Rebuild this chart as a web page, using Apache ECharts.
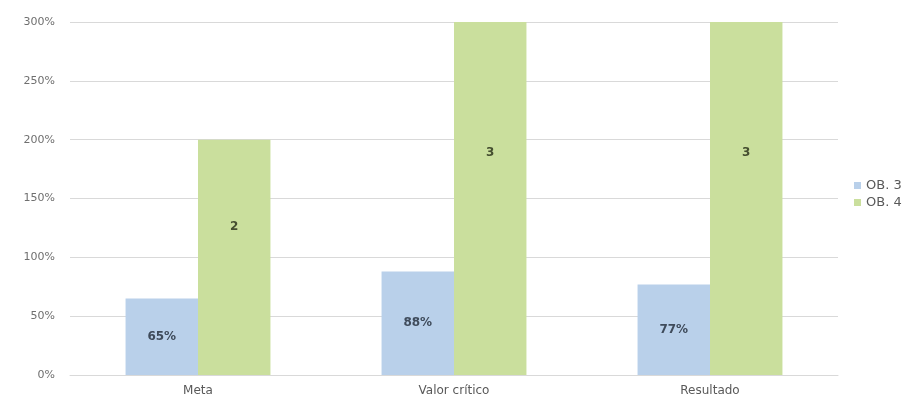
<!DOCTYPE html>
<html>
<head>
<meta charset="utf-8">
<script src="https://cdn.jsdelivr.net/npm/echarts@6/dist/echarts.min.js"></script>
<style>html,body{margin:0;padding:0;background:#fff}#c{width:915px;height:410px}</style>
</head>
<body>
<div id="c"></div>
<script>
const categories = ['Meta', 'Valor crítico', 'Resultado'];
const ob3 = [0.65, 0.88, 0.77];
const ob4 = [2, 3, 3];
const seriesNames = ['OB. 3', 'OB. 4'];
const yTicks = { min: 0, max: 3, interval: 0.5 };

const FONT = '"DejaVu Sans", sans-serif';
const chart = echarts.init(document.getElementById('c'));
chart.setOption({
  animation: false,
  backgroundColor: '#ffffff',
  grid: { left: 70, right: 77, top: 22, bottom: 35 },
  legend: {
    orient: 'vertical',
    left: 849,
    top: 174,
    itemWidth: 7,
    itemHeight: 7,
    itemGap: 4,
    icon: 'rect',
    textStyle: { color: '#595959', fontSize: 13, fontFamily: FONT },
    data: seriesNames
  },
  xAxis: {
    type: 'category',
    data: categories,
    axisLine: { lineStyle: { color: '#d9d9d9' } },
    axisTick: { show: false },
    axisLabel: { color: '#595959', fontSize: 12, fontFamily: FONT, margin: 10 }
  },
  yAxis: {
    type: 'value',
    min: yTicks.min, max: yTicks.max, interval: yTicks.interval,
    axisLine: { show: false },
    axisTick: { show: false },
    splitLine: { lineStyle: { color: '#d9d9d9' } },
    axisLabel: {
      color: '#6f6f6f', fontSize: 11, fontFamily: FONT, margin: 15,
      formatter: v => Math.round(v * 100) + '%'
    }
  },
  series: [
    {
      name: seriesNames[0], type: 'bar', data: ob3,
      barWidth: '28.3%', barGap: '0%',
      itemStyle: { color: '#b9d0ea' },
      label: {
        show: true, position: 'inside', color: '#3f4b5b', fontWeight: 'bold',
        fontSize: 12, fontFamily: FONT,
        formatter: p => Math.round(p.value * 100) + '%'
      }
    },
    {
      name: seriesNames[1], type: 'bar', data: ob4,
      barWidth: '28.3%',
      itemStyle: { color: '#cadf9d' },
      label: {
        show: true, position: ['50%', '37%'], align: 'center', verticalAlign: 'middle',
        color: '#454f30', fontWeight: 'bold', fontSize: 12, fontFamily: FONT,
        formatter: p => String(p.value)
      }
    }
  ]
});
</script>
</body>
</html>
